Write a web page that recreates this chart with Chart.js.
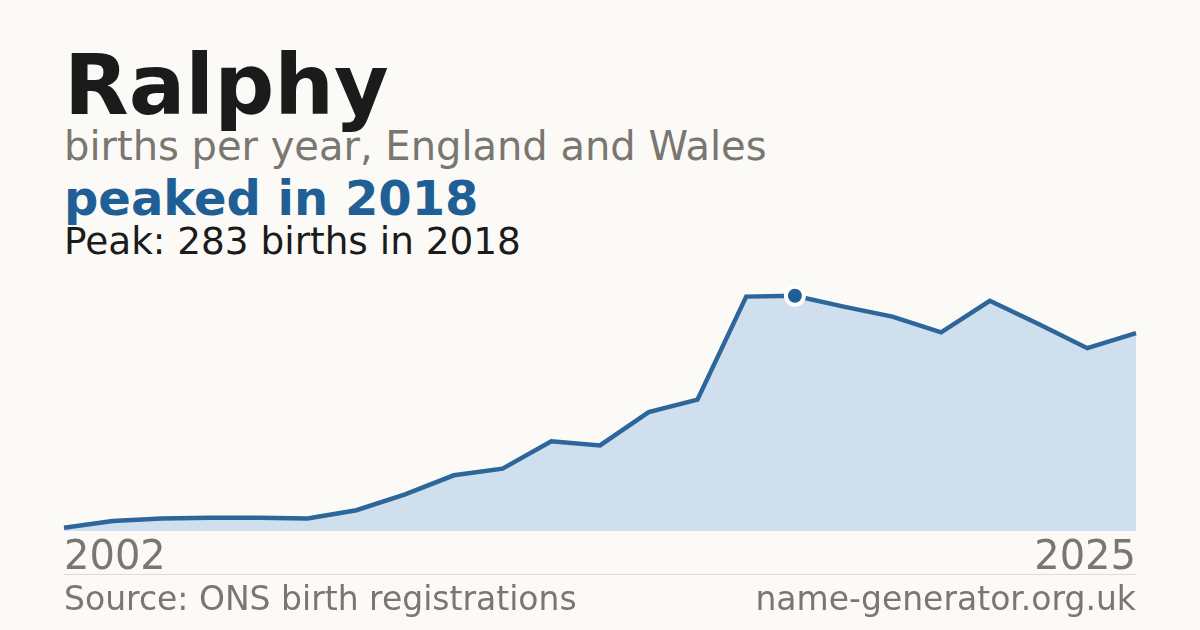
<!DOCTYPE html>
<html>
<head>
<meta charset="utf-8">
<script src="https://cdn.jsdelivr.net/npm/chart.js@4"></script>
<style>
  html, body { margin: 0; padding: 0; }
  body { width: 1200px; height: 630px; background: #fbfaf6; position: relative; overflow: hidden;
         font-family: "DejaVu Sans", sans-serif; }
  .t { position: absolute; left: 64px; line-height: 1; white-space: nowrap; }
  #title { top: 43px; font-size: 84px; font-weight: bold; color: #1b1b1b; }
  #sub { top: 126px; font-size: 40px; color: #7a7670; }
  #hl { top: 174px; font-size: 48px; font-weight: bold; color: #1f5f96; }
  #peak { top: 223px; font-size: 37.4px; color: #1b1b1b; }
  #wrap { position: absolute; left: 60px; top: 280px; width: 1080px; height: 307px; }
  #rule { position: absolute; left: 64px; width: 1072px; top: 574px; height: 1px; background: #dedbd4; }
  .foot { position: absolute; top: 582px; font-size: 33px; color: #7a7670; line-height: 1; white-space: nowrap; }
  #src { left: 64px; }
  #site { right: 64px; }
</style>
</head>
<body>
<div class="t" id="title">Ralphy</div>
<div class="t" id="sub">births per year, England and Wales</div>
<div class="t" id="hl">peaked in 2018</div>
<div class="t" id="peak">Peak: 283 births in 2018</div>
<div id="wrap"><canvas id="chart"></canvas></div>
<div id="rule"></div>
<div class="foot" id="src">Source: ONS birth registrations</div>
<div class="foot" id="site">name-generator.org.uk</div>
<script>
// data
const years = ['2002','2004','2005','2006','2007','2008','2009','2010','2011','2012','2013','2014',
               '2015','2016','2017','2018','2019','2020','2021','2022','2023','2024','2025'];
const births = [4, 12, 15, 16, 16, 15, 25, 44, 67, 75, 108, 103,
                143, 158, 282, 283, 270, 258, 239, 277, 249, 220, 238];

const peakIdx = births.indexOf(Math.max(...births));
const lastIdx = years.length - 1;

new Chart(document.getElementById('chart'), {
  type: 'line',
  data: {
    labels: years,
    datasets: [{
      data: births,
      borderColor: '#2c669b',
      borderWidth: 4.5,
      backgroundColor: '#cfdfee',
      fill: 'origin',
      tension: 0,
      pointRadius: births.map((v, i) => i === peakIdx ? 9 : 0),
      pointHoverRadius: 0,
      pointHoverBorderWidth: 0,
      pointBackgroundColor: '#1f5f96',
      pointBorderColor: '#ffffff',
      pointBorderWidth: 4,
      clip: false
    }]
  },
  options: {
    responsive: true,
    maintainAspectRatio: false,
    animation: false,
    layout: { padding: 0 },
    plugins: { legend: { display: false }, tooltip: { enabled: false } },
    scales: {
      y: { display: false, min: 0, max: 302 },
      x: {
        offset: false,
        grid: { display: false, drawTicks: false },
        border: { display: false },
        ticks: {
          autoSkip: false,
          maxRotation: 0,
          align: 'inner',
          padding: 4,
          color: '#7a7670',
          font: { family: 'DejaVu Sans', size: 40 },
          callback: (v, i) => (i === 0 || i === lastIdx) ? years[i] : ''
        }
      }
    }
  }
});
</script>
</body>
</html>
